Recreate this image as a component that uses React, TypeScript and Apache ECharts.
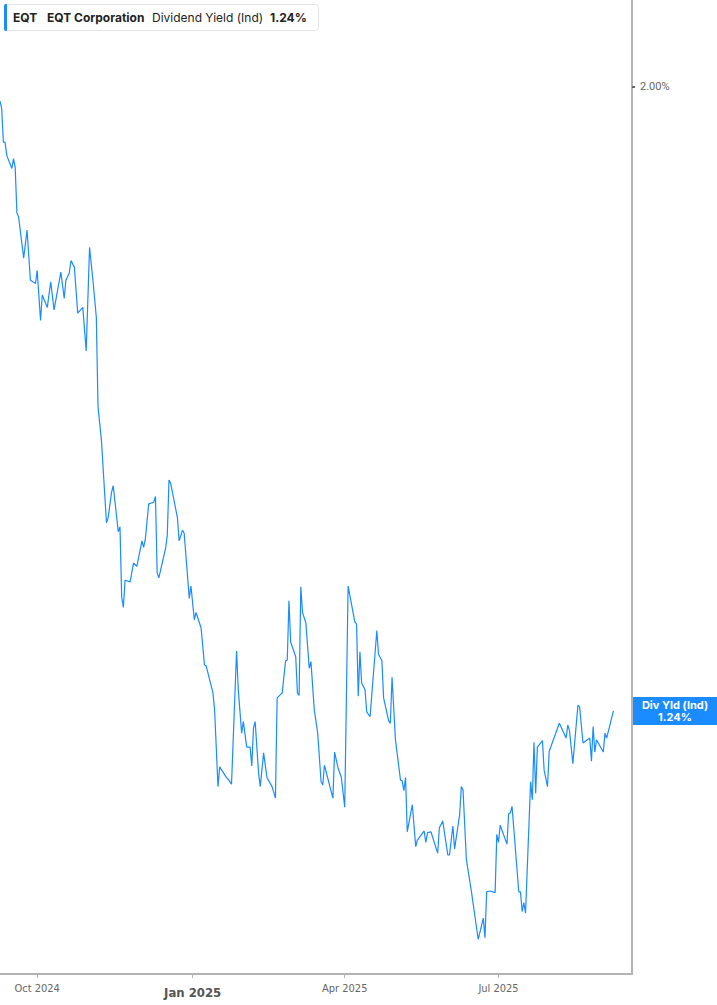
import { useEffect, useRef } from "react";
import * as echarts from "echarts";

const dates = [
  "2024-09-09", "2024-09-10", "2024-09-11", "2024-09-12", "2024-09-13", "2024-09-16", "2024-09-17", "2024-09-18",
  "2024-09-19", "2024-09-20", "2024-09-23", "2024-09-25", "2024-09-27", "2024-09-30", "2024-10-01", "2024-10-03",
  "2024-10-04", "2024-10-07", "2024-10-09", "2024-10-11", "2024-10-15", "2024-10-17", "2024-10-18", "2024-10-20",
  "2024-10-21", "2024-10-23", "2024-10-25", "2024-10-28", "2024-10-30", "2024-11-01", "2024-11-03", "2024-11-05",
  "2024-11-06", "2024-11-08", "2024-11-11", "2024-11-12", "2024-11-14", "2024-11-15", "2024-11-18", "2024-11-19",
  "2024-11-20", "2024-11-21", "2024-11-22", "2024-11-25", "2024-11-27", "2024-11-29", "2024-12-02", "2024-12-03",
  "2024-12-04", "2024-12-06", "2024-12-09", "2024-12-10", "2024-12-11", "2024-12-12", "2024-12-16", "2024-12-17",
  "2024-12-18", "2024-12-19", "2024-12-23", "2024-12-24", "2024-12-26", "2024-12-27", "2024-12-30", "2024-12-31",
  "2025-01-02", "2025-01-03", "2025-01-06", "2025-01-08", "2025-01-09", "2025-01-13", "2025-01-14", "2025-01-16",
  "2025-01-17", "2025-01-21", "2025-01-22", "2025-01-24", "2025-01-27", "2025-01-28", "2025-01-30", "2025-01-31",
  "2025-02-02", "2025-02-04", "2025-02-05", "2025-02-06", "2025-02-07", "2025-02-09", "2025-02-10", "2025-02-12",
  "2025-02-14", "2025-02-17", "2025-02-19", "2025-02-20", "2025-02-23", "2025-02-25", "2025-02-26", "2025-02-27",
  "2025-02-28", "2025-03-03", "2025-03-04", "2025-03-05", "2025-03-06", "2025-03-07", "2025-03-09", "2025-03-11",
  "2025-03-12", "2025-03-14", "2025-03-16", "2025-03-18", "2025-03-19", "2025-03-20", "2025-03-25", "2025-03-26",
  "2025-03-28", "2025-03-30", "2025-04-01", "2025-04-03", "2025-04-07", "2025-04-08", "2025-04-09", "2025-04-10",
  "2025-04-11", "2025-04-13", "2025-04-14", "2025-04-16", "2025-04-20", "2025-04-21", "2025-04-23", "2025-04-24",
  "2025-04-27", "2025-04-28", "2025-04-29", "2025-05-01", "2025-05-04", "2025-05-05", "2025-05-06", "2025-05-07",
  "2025-05-08", "2025-05-11", "2025-05-13", "2025-05-14", "2025-05-18", "2025-05-19", "2025-05-20", "2025-05-22",
  "2025-05-26", "2025-05-27", "2025-05-29", "2025-06-01", "2025-06-02", "2025-06-04", "2025-06-05", "2025-06-08",
  "2025-06-09", "2025-06-10", "2025-06-12", "2025-06-15", "2025-06-19", "2025-06-22", "2025-06-23", "2025-06-24",
  "2025-06-26", "2025-06-29", "2025-06-30", "2025-07-01", "2025-07-02", "2025-07-06", "2025-07-07", "2025-07-08",
  "2025-07-09", "2025-07-13", "2025-07-14", "2025-07-15", "2025-07-16", "2025-07-17", "2025-07-20", "2025-07-21",
  "2025-07-22", "2025-07-23", "2025-07-24", "2025-07-27", "2025-07-28", "2025-07-30", "2025-07-31", "2025-08-03",
  "2025-08-06", "2025-08-10", "2025-08-11", "2025-08-12", "2025-08-14", "2025-08-17", "2025-08-18", "2025-08-20",
  "2025-08-24", "2025-08-25", "2025-08-26", "2025-08-27", "2025-08-28", "2025-09-01", "2025-09-02", "2025-09-03",
  "2025-09-07",
];

const divYield = [
  1.982, 1.973, 1.932, 1.932, 1.916, 1.9, 1.912, 1.901,
  1.846, 1.841, 1.791, 1.825, 1.764, 1.76, 1.776, 1.715,
  1.746, 1.731, 1.762, 1.728, 1.774, 1.742, 1.764, 1.773,
  1.788, 1.78, 1.724, 1.731, 1.678, 1.804, 1.764, 1.719,
  1.61, 1.57, 1.469, 1.475, 1.506, 1.514, 1.458, 1.464,
  1.379, 1.366, 1.399, 1.397, 1.42, 1.416, 1.447, 1.439,
  1.449, 1.492, 1.494, 1.501, 1.408, 1.402, 1.438, 1.454,
  1.521, 1.517, 1.475, 1.447, 1.46, 1.456, 1.377, 1.392,
  1.351, 1.36, 1.341, 1.296, 1.295, 1.262, 1.241, 1.148,
  1.172, 1.159, 1.157, 1.151, 1.313, 1.266, 1.213, 1.227,
  1.196, 1.196, 1.173, 1.219, 1.227, 1.165, 1.148, 1.189,
  1.159, 1.148, 1.134, 1.256, 1.262, 1.301, 1.302, 1.374,
  1.324, 1.306, 1.262, 1.259, 1.391, 1.36, 1.347, 1.292,
  1.3, 1.241, 1.213, 1.154, 1.15, 1.174, 1.134, 1.19,
  1.171, 1.159, 1.123, 1.392, 1.348, 1.346, 1.258, 1.312,
  1.274, 1.266, 1.239, 1.233, 1.338, 1.309, 1.301, 1.256,
  1.228, 1.225, 1.281, 1.205, 1.156, 1.155, 1.143, 1.159,
  1.093, 1.126, 1.075, 1.083, 1.094, 1.08, 1.092, 1.093,
  1.067, 1.098, 1.106, 1.065, 1.065, 1.1, 1.072, 1.114,
  1.148, 1.144, 1.059, 1.02, 0.962, 0.988, 0.964, 1.02,
  1.021, 1.019, 1.09, 1.08, 1.101, 1.078, 1.115, 1.116,
  1.124, 1.02, 1.02, 0.996, 1.007, 0.994, 1.154, 1.132,
  1.202, 1.14, 1.196, 1.204, 1.168, 1.148, 1.191, 1.208,
  1.225, 1.207, 1.223, 1.216, 1.176, 1.247, 1.245, 1.201,
  1.207, 1.179, 1.221, 1.19, 1.205, 1.19, 1.213, 1.207,
  1.24,
];

const xTickDates = ["2024-10-01", "2025-01-01", "2025-04-01", "2025-07-01"];
const yTickValues = [2.0];
const xRange = ["2024-09-09", "2025-09-18"];
const yRange = [0.92, 2.105];

const LINE_COLOR = "#1a8cff";
const MONTHS = ["Jan", "Feb", "Mar", "Apr", "May", "Jun", "Jul", "Aug", "Sep", "Oct", "Nov", "Dec"];
const NARROW = "'Liberation Sans Narrow', 'DejaVu Sans Condensed', Roboto, sans-serif";

const toTime = (s: string) => {
  const [y, m, d] = s.split("-").map(Number);
  return new Date(y, m - 1, d).getTime();
};

export default function App() {
  const ref = useRef<HTMLDivElement | null>(null);

  useEffect(() => {
    if (!ref.current) return;
    const chart = echarts.init(ref.current, undefined, { renderer: "svg" });
    const last = divYield[divYield.length - 1];
    const xTicks = xTickDates.map(toTime);

    chart.setOption({
      animation: false,
      backgroundColor: "#ffffff",
      grid: { left: 0, right: 85, top: 0, bottom: 31 },
      xAxis: {
        // timestamps on a value axis, so the quarter ticks can be placed exactly
        type: "value",
        min: toTime(xRange[0]),
        max: toTime(xRange[1]),
        axisLine: { show: true, onZero: false, lineStyle: { color: "#b3b3b3", width: 2 } },
        axisTick: {
          show: true,
          customValues: xTicks,
          length: 4,
          lineStyle: { color: "#b3b3b3", width: 1 },
        },
        axisLabel: {
          customValues: xTicks,
          margin: 9,
          hideOverlap: false,
          formatter: (v: number) => {
            const d = new Date(v);
            const txt = `${MONTHS[d.getMonth()]} ${d.getFullYear()}`;
            return d.getMonth() === 0 ? `{b|${txt}}` : `{a|${txt}}`;
          },
          rich: {
            a: { fontFamily: NARROW, fontSize: 11, color: "#666" },
            b: {
              fontFamily: NARROW,
              fontSize: 13,
              fontWeight: "bold",
              color: "#555",
              padding: [3, 0, 0, 0],
            },
          },
        },
        splitLine: { show: false },
      },
      yAxis: {
        type: "value",
        position: "right",
        min: yRange[0],
        max: yRange[1],
        axisLine: { show: true, lineStyle: { color: "#b3b3b3", width: 2 } },
        axisTick: {
          show: true,
          customValues: yTickValues,
          length: 3,
          lineStyle: { color: "#666", width: 2 },
        },
        axisLabel: {
          customValues: yTickValues,
          margin: 8,
          fontFamily: "Roboto, sans-serif",
          fontSize: 11,
          color: "#666",
          formatter: (v: number) => `${v.toFixed(2)}%`,
        },
        splitLine: { show: false },
      },
      graphic: [
        {
          type: "rect",
          shape: { x: 4.5, y: 4.5, width: 314, height: 26, r: 3 },
          style: { fill: "#fff", stroke: "#e4e4e4", lineWidth: 1 },
        },
        {
          type: "rect",
          shape: { x: 4, y: 4, width: 3, height: 27, r: [2, 0, 0, 2] },
          style: { fill: LINE_COLOR },
        },
        ...[
          { x: 13, text: "EQT", bold: true },
          { x: 47, text: "EQT Corporation", bold: true },
          { x: 152, text: "Dividend Yield (Ind)", bold: false },
          { x: 270, text: "1.24%", bold: true },
        ].map((t) => ({
          type: "text",
          x: t.x,
          y: 17.5,
          style: {
            text: t.text,
            fill: "#222",
            font: `${t.bold ? "bold " : ""}12px Inter, Roboto, sans-serif`,
            verticalAlign: "middle",
          },
        })),
      ],
      series: [
        {
          type: "line",
          data: dates.map((d, i) => [toTime(d), divYield[i]]),
          showSymbol: false,
          symbol: "none",
          lineStyle: { color: LINE_COLOR, width: 1.2 },
          markLine: {
            silent: true,
            symbol: "none",
            lineStyle: { color: "transparent", width: 0 },
            data: [{ yAxis: last }],
            label: {
              show: true,
              position: "end",
              distance: 1,
              formatter: `{t|Div Yld (Ind)}\n{t|${last.toFixed(2)}%}`,
              backgroundColor: LINE_COLOR,
              padding: [2, 8, 2, 8],
              rich: {
                t: {
                  width: 68,
                  align: "center",
                  color: "#fff",
                  fontWeight: "bold",
                  fontSize: 11,
                  lineHeight: 12,
                  fontFamily: "Inter, Roboto, sans-serif",
                },
              },
            },
          },
        },
      ],
    });

    return () => chart.dispose();
  }, []);

  return (
    <div
      ref={ref}
      style={{ position: "fixed", left: 0, top: 0, width: 717, height: 1005, background: "#fff" }}
    />
  );
}
